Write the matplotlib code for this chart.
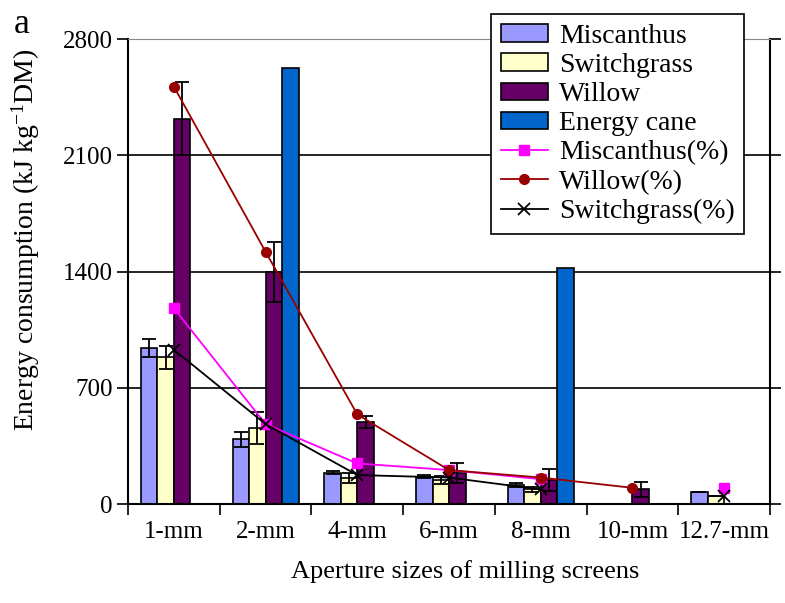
import matplotlib
matplotlib.use("Agg")
import matplotlib.pyplot as plt
import numpy as np

nan = np.nan

# values
categories = ["1-mm", "2-mm", "4-mm", "6-mm", "8-mm", "10-mm", "12.7-mm"]
miscanthus = [940, 390, 190, 165, 115, nan, 72]
miscanthus_err = [55, 45, 10, 10, 10, nan, 0]
switchgrass = [885, 460, 160, 145, 90, nan, 48]
switchgrass_err = [70, 95, 30, 25, 15, nan, 0]
willow = [2320, 1400, 495, 190, 145, 90, nan]
willow_err = [220, 180, 35, 60, 65, 45, nan]
energy_cane = [nan, 2625, nan, nan, 1420, nan, nan]
miscanthus_pct = [1180, 482, 245, 205, 150, nan, 100]
willow_pct = [2515, 1520, 540, 205, 160, 98, nan]
switchgrass_pct = [930, 482, 175, 160, 88, nan, 50]
yticks = [0, 700, 1400, 2100, 2800]

plt.rcParams["font.family"] = ["Liberation Serif", "DejaVu Serif"]
plt.rcParams["mathtext.default"] = "regular"

fig = plt.figure(figsize=(7.85, 6.03), dpi=100)
ax = fig.add_axes([0.163, 0.164, 0.818, 0.771])

x = np.arange(len(categories))
w = 0.18
err_kw = dict(ecolor="black", elinewidth=1.3, capsize=5, capthick=1.3)

b1 = ax.bar(x - 1.5 * w, miscanthus, w, yerr=miscanthus_err, color="#9999FF",
            edgecolor="black", linewidth=1.2, error_kw=err_kw, label="Miscanthus")
b2 = ax.bar(x - 0.5 * w, switchgrass, w, yerr=switchgrass_err, color="#FFFFCC",
            edgecolor="black", linewidth=1.2, error_kw=err_kw, label="Switchgrass")
b3 = ax.bar(x + 0.5 * w, willow, w, yerr=willow_err, color="#660066",
            edgecolor="black", linewidth=1.2, error_kw=err_kw, label="Willow")
b4 = ax.bar(x + 1.5 * w, energy_cane, w, color="#0066CC",
            edgecolor="black", linewidth=1.2, label="Energy cane")

l1, = ax.plot(x, miscanthus_pct, color="#FF00FF", marker="s", markersize=7,
              linewidth=1.3, label="Miscanthus(%)", zorder=5)
l2, = ax.plot(x, willow_pct, color="#990000", marker="o", markersize=7,
              linewidth=1.3, label="Willow(%)", zorder=5)
l3, = ax.plot(x, switchgrass_pct, color="black", marker="x", markersize=9,
              markeredgewidth=1.3, linewidth=1.3, label="Switchgrass(%)", zorder=5)

ax.set_xlim(-0.5, len(categories) - 0.5)
ax.set_ylim(0, 2800)
ax.set_yticks(yticks)
ax.set_yticklabels([str(v) for v in yticks])
ax.yaxis.grid(True, color="black", linewidth=1.2)
ax.set_axisbelow(True)

ax.set_xticks(x)
ax.set_xticklabels(categories)
ax.set_xticks(np.arange(len(categories) + 1) - 0.5, minor=True)
ax.tick_params(axis="x", which="major", length=0, pad=12, labelsize=18)
ax.tick_params(axis="x", which="minor", length=8, width=1.2, direction="out")
ax.tick_params(axis="y", length=8, width=1.2, direction="out", right=True,
               labelsize=18, pad=3)

for s in ["left", "right", "bottom"]:
    ax.spines[s].set_linewidth(1.5)
ax.spines["top"].set_color("#888888")

ax.set_ylabel("Energy consumption (kJ kg$^{-1}$DM)", fontsize=20)
ax.yaxis.set_label_coords(-0.134, 0.568)
ax.set_xlabel("Aperture sizes of milling screens", fontsize=19)
ax.xaxis.set_label_coords(0.525, -0.12)
fig.text(0.018, 0.945, "a", fontsize=26)

leg = ax.legend(handles=[b1, b2, b3, b4, l1, l2, l3], loc="upper right",
                bbox_to_anchor=(0.96, 1.054), borderaxespad=0, fontsize=20,
                fancybox=False, framealpha=1, edgecolor="black",
                labelspacing=0.15, handlelength=1.7, handleheight=0.6,
                handletextpad=0.4, borderpad=0.35)
leg.get_frame().set_linewidth(1.2)

plt.savefig("out.png", dpi=100)
plt.close()
